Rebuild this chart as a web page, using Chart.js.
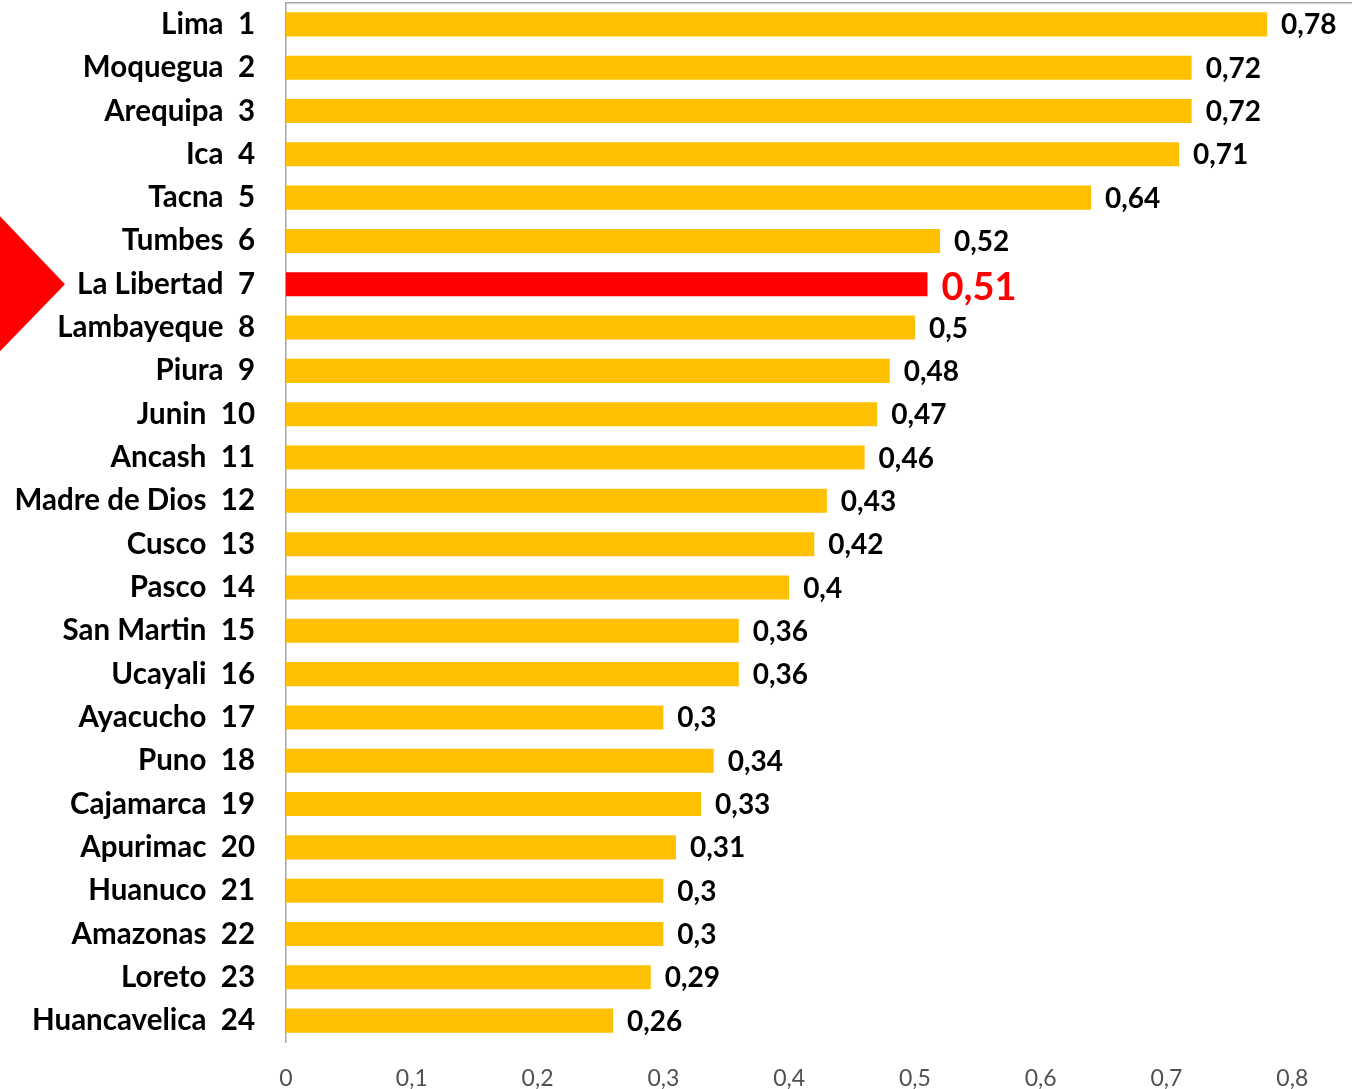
<!DOCTYPE html>
<html>
<head>
<meta charset="utf-8">
<script src="https://cdn.jsdelivr.net/npm/chart.js@4/dist/chart.umd.min.js"></script>
<style>
html,body{margin:0;padding:0;background:#fff;overflow:hidden;width:1352px;height:1089px;position:relative;}
#wrap{position:absolute;left:0;top:-46px;width:1456px;height:1137px;}
</style>
</head>
<body>
<div id="wrap"><canvas id="c" width="1456" height="1137"></canvas></div>
<script>
const regions = ["Lima","Moquegua","Arequipa","Ica","Tacna","Tumbes","La Libertad","Lambayeque","Piura","Junin","Ancash","Madre de Dios","Cusco","Pasco","San Martin","Ucayali","Ayacucho","Puno","Cajamarca","Apurimac","Huanuco","Amazonas","Loreto","Huancavelica"];
const ranks = [1,2,3,4,5,6,7,8,9,10,11,12,13,14,15,16,17,18,19,20,21,22,23,24];
const values = [0.78,0.72,0.72,0.71,0.64,0.52,0.51,0.5,0.48,0.47,0.46,0.43,0.42,0.4,0.36,0.36,0.3,0.34,0.33,0.31,0.3,0.3,0.29,0.26];
const highlight = "La Libertad";

const labels = regions.map((r,i)=>r+"  "+ranks[i]);
const colors = regions.map(r=> r===highlight ? "#FF0000" : "#FFC000");
const FONT = "Lato";

const decor = {
  id:'decor',
  afterDatasetsDraw(chart){
    const ctx = chart.ctx;
    const meta = chart.getDatasetMeta(0);
    const ca = chart.chartArea;
    ctx.save();
    ctx.strokeStyle = "#A6A6A6"; ctx.lineWidth = 1.5;
    ctx.beginPath(); ctx.moveTo(ca.left, ca.top); ctx.lineTo(ca.right, ca.top); ctx.stroke();
    meta.data.forEach((bar,i)=>{
      const hi = regions[i]===highlight;
      ctx.fillStyle = hi ? "#FF0000" : "#000000";
      ctx.font = "bold " + (hi ? 38 : 28) + "px " + FONT;
      ctx.textAlign = "left"; ctx.textBaseline = "middle";
      const txt = values[i].toString().replace(".", ",");
      ctx.fillText(txt, bar.x + 14, bar.y + (hi?3:1));
    });
    const hiIdx = regions.indexOf(highlight);
    const cy = chart.scales.y.getPixelForValue(hiIdx);
    ctx.fillStyle = "#FF0000";
    ctx.beginPath();
    ctx.moveTo(0, cy-68); ctx.lineTo(65, cy); ctx.lineTo(0, cy+67); ctx.closePath(); ctx.fill();
    ctx.restore();
  }
};

new Chart(document.getElementById('c'), {
  type:'bar',
  data:{ labels: labels, datasets:[{ data: values, backgroundColor: colors, borderWidth:0, barPercentage:0.555, categoryPercentage:1.0 }]},
  options:{
    indexAxis:'y',
    responsive:false,
    animation:false,
    layout:{ autoPadding:false, padding:{ top:3, left:0, right:0, bottom:0 } },
    plugins:{ legend:{display:false}, tooltip:{enabled:false} },
    scales:{
      x:{
        min:0, max:0.9,
        ticks:{ stepSize:0.1, padding:22, color:"#505050", font:{family:FONT, size:23},
          callback:(v)=> (Math.round(v*10)/10).toString().replace(".", ",") },
        grid:{ display:false, drawTicks:false },
        border:{ display:false },
        afterFit(s){ s.height = 47; }
      },
      y:{
        ticks:{ padding:31, color:"#000000", font:{family:FONT, size:29.5, weight:'bold'} },
        grid:{ display:false, drawTicks:false },
        border:{ display:true, color:"#A6A6A6", width:1.5 },
        afterFit(s){ s.width = 286; }
      }
    }
  },
  plugins:[decor]
});
</script>
</body>
</html>
